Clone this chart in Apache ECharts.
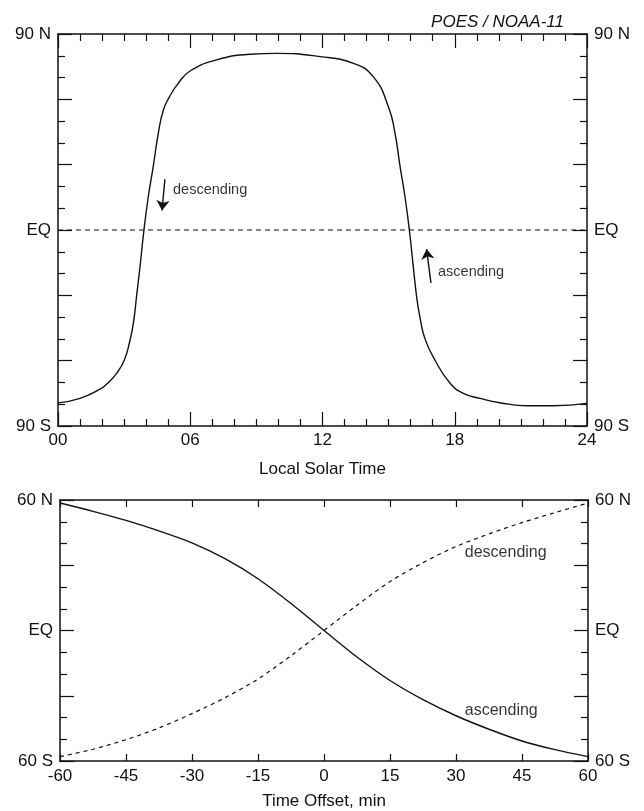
<!DOCTYPE html>
<html>
<head>
<meta charset="utf-8">
<title>POES / NOAA-11</title>
<script src="https://cdn.jsdelivr.net/npm/echarts@6/dist/echarts.min.js"></script>
<style>
  html, body { margin: 0; padding: 0; background: #fff; }
  #chart { width: 644px; height: 811px; }
</style>
</head>
<body>
<div id="chart"></div>
<script>
// upper panel: sub-satellite latitude vs local solar time
var lstHours = [0, 1.0, 1.9, 2.21, 2.66, 3.01, 3.27, 3.42, 3.57, 3.72, 3.9, 4.1, 4.32, 4.55, 4.78, 5.05, 5.43, 5.99, 7.2, 8.71, 9.92, 11.89,
    13.4, 14.3, 14.99, 15.29, 15.52, 15.74, 15.94, 16.12, 16.27, 16.42, 16.65, 17.1, 17.79, 18.39, 19.15, 20.05, 21.27, 22.47, 24];
var lstLat = [-79.4, -77.3, -73.1, -70.7, -65.8, -59.7, -50.5, -42.8, -29.9, -16.9, 0, 15.5, 29.1, 44.4, 55.1, 61.0, 67.0, 73.0, 78.1, 80.7, 81.1, 79.6,
    76.5, 70.4, 56.6, 44.4, 29.1, 15.5, 0, -16.9, -30.6, -40.0, -50.0, -59.7, -70.4, -75.0, -77.3, -79.3, -80.7, -80.7, -79.6];
var eqHours = [0, 24];
var eqLat = [0, 0];

// lower panel: latitude vs time offset from equator crossing
var offsetMin = [-60, -52.5, -45, -37.5, -30, -22.5, -15, -7.5, 0, 7.5, 15, 22.5, 30, 37.5, 45, 52.5, 60];
var ascLat = [58.6, 54.8, 50.6, 45.8, 40.3, 33.0, 23.8, 12.4, 0, -12.2, -23.0, -31.8, -39.2, -45.4, -50.8, -54.8, -58.0];
var descLat = [-58.0, -54.6, -50.2, -44.8, -38.2, -30.9, -22.3, -11.6, 0, 11.6, 22.5, 31.2, 38.6, 44.4, 49.6, 54.2, 58.6];

// annotations [x, y, text]
var upperNotes = [[5.22, 18.4, 'descending'], [17.24, -19.3, 'ascending']];
var lowerNotes = [[32.0, 35.7, 'descending'], [32.0, -36.6, 'ascending']];
// arrows [x0, y0, x1, y1] (tail -> head)
var upperArrows = [[4.85, 23.3, 4.72, 9.0], [16.92, -24.3, 16.72, -8.8]];

var FONT = "'Liberation Sans', Arial, Helvetica, sans-serif";
var INK = '#111';

function zip(xs, ys) {
    return xs.map(function (x, i) { return [x, ys[i]]; });
}

function latLabel(limit) {
    return function (v) {
        if (v === limit) return limit + ' N';
        if (v === -limit) return limit + ' S';
        if (v === 0) return 'EQ';
        return '';
    };
}

function xAxisCfg(grid, min, max, interval, pos, opts) {
    return {
        type: 'value', gridIndex: grid, position: pos,
        min: min, max: max, interval: interval,
        axisLine: { show: true, onZero: false, lineStyle: { color: INK, width: 1.5 } },
        axisTick: { show: true, inside: true, length: opts.tickLen, lineStyle: { color: INK, width: 1.2 } },
        minorTick: { show: !!opts.minor, splitNumber: opts.minor || 5, length: 7, lineStyle: { color: INK, width: 1.2 } },
        splitLine: { show: false },
        minorSplitLine: { show: false },
        axisLabel: {
            show: pos === 'bottom', margin: opts.margin, color: INK, fontSize: 17, fontFamily: FONT,
            formatter: opts.fmt
        },
        name: pos === 'bottom' ? opts.name : '',
        nameLocation: 'middle',
        nameGap: opts.nameGap,
        nameTextStyle: { color: INK, fontSize: 17, fontFamily: FONT }
    };
}

function yAxisCfg(grid, limit, pos) {
    return {
        type: 'value', gridIndex: grid, position: pos,
        min: -limit, max: limit, interval: 30,
        axisLine: { show: true, onZero: false, lineStyle: { color: INK, width: 1.5 } },
        axisTick: { show: true, inside: true, length: 14, lineStyle: { color: INK, width: 1.2 } },
        minorTick: { show: true, splitNumber: 3, length: 7, lineStyle: { color: INK, width: 1.2 } },
        splitLine: { show: false },
        minorSplitLine: { show: false },
        axisLabel: { margin: 7, color: INK, fontSize: 17, fontFamily: FONT, formatter: latLabel(limit) }
    };
}

function noteSeries(xi, yi, notes, size) {
    return {
        type: 'scatter', xAxisIndex: xi, yAxisIndex: yi,
        symbolSize: 0, silent: true,
        data: notes,
        label: {
            show: true, position: [0, 0], align: 'left', verticalAlign: 'middle',
            color: '#000', fontSize: size, fontFamily: FONT,
            formatter: function (p) { return p.value[2]; }
        }
    };
}

var chart = echarts.init(document.getElementById('chart'), null, { renderer: 'canvas' });

var hourFmt = function (v) { return (v < 10 ? '0' : '') + v; };

var option = {
    backgroundColor: '#fff',
    animation: false,
    title: {
        text: 'POES / NOAA-11',
        right: 75, top: 9,
        textStyle: { color: INK, fontSize: 17, fontStyle: 'italic', fontWeight: 'normal', fontFamily: FONT }
    },
    grid: [
        { left: 58, top: 34, width: 529, height: 392 },
        { left: 60, top: 500, width: 528, height: 262 }
    ],
    xAxis: [
        xAxisCfg(0, 0, 24, 6, 'bottom', { tickLen: 14, minor: 6, margin: 6, fmt: hourFmt, name: 'Local Solar Time', nameGap: 35 }),
        xAxisCfg(0, 0, 24, 6, 'top', { tickLen: 14, minor: 6, margin: 6 }),
        xAxisCfg(1, -60, 60, 15, 'bottom', { tickLen: 7, margin: 7, name: 'Time Offset, min', nameGap: 32 }),
        xAxisCfg(1, -60, 60, 15, 'top', { tickLen: 7 })
    ],
    yAxis: [
        yAxisCfg(0, 90, 'left'),
        yAxisCfg(0, 90, 'right'),
        yAxisCfg(1, 60, 'left'),
        yAxisCfg(1, 60, 'right')
    ],
    series: [
        {
            name: 'latitude', type: 'line', xAxisIndex: 0, yAxisIndex: 0,
            data: zip(lstHours, lstLat),
            showSymbol: false, smooth: 0.5,
            lineStyle: { color: INK, width: 1.4 },
            markLine: {
                silent: true, symbol: ['none', 'arrow'], symbolSize: 10,
                label: { show: false },
                lineStyle: { color: INK, width: 1.4, type: 'solid' },
                data: upperArrows.map(function (a) {
                    return [{ coord: [a[0], a[1]] }, { coord: [a[2], a[3]] }];
                })
            }
        },
        {
            name: 'equator', type: 'line', xAxisIndex: 0, yAxisIndex: 0,
            data: zip(eqHours, eqLat), showSymbol: false, silent: true,
            lineStyle: { color: INK, width: 1.2, type: [5, 4] }
        },
        noteSeries(0, 0, upperNotes, 14.5),
        {
            name: 'ascending', type: 'line', xAxisIndex: 2, yAxisIndex: 2,
            data: zip(offsetMin, ascLat),
            showSymbol: false, smooth: 0.3,
            lineStyle: { color: INK, width: 1.4 }
        },
        {
            name: 'descending', type: 'line', xAxisIndex: 2, yAxisIndex: 2,
            data: zip(offsetMin, descLat),
            showSymbol: false, smooth: 0.3,
            lineStyle: { color: INK, width: 1.2, type: [4, 4] }
        },
        noteSeries(2, 2, lowerNotes, 16)
    ]
};

chart.setOption(option);
</script>
</body>
</html>
